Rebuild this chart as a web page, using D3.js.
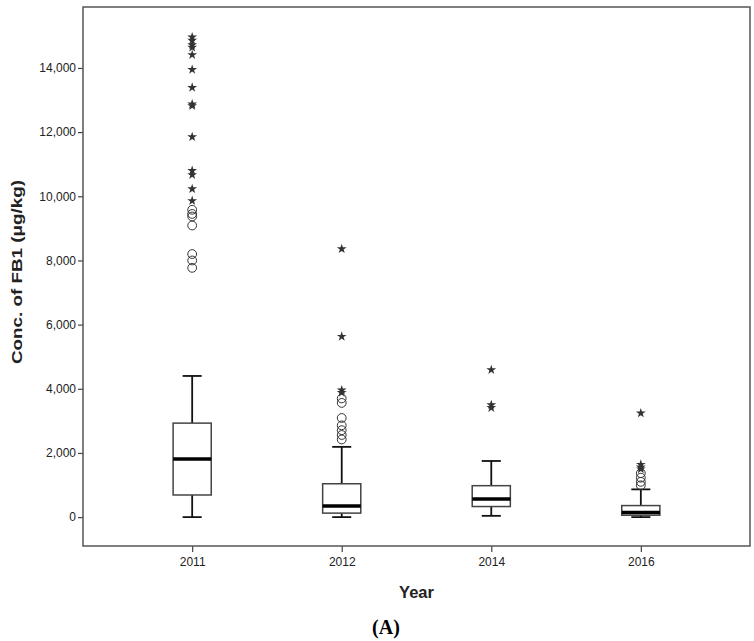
<!DOCTYPE html>
<html>
<head>
<meta charset="utf-8">
<script src="https://cdn.jsdelivr.net/npm/d3@7"></script>
<style>
  body { margin: 0; background: #fff; }
  svg { display: block; }
</style>
</head>
<body>
<div id="chart"></div>
<script>
// box plot values (µg/kg)
var years = ["2011", "2012", "2014", "2016"];
var whiskerLow = [0, 0, 40, 0];
var q1 = [690, 125, 330, 60];
var median = [1810, 345, 565, 145];
var q3 = [2930, 1040, 980, 360];
var whiskerHigh = [4400, 2190, 1750, 865];
// circles = outliers, stars = extreme outliers
var outliers2011 = [9580, 9450, 9370, 9090, 8200, 8000, 7770];
var extremes2011 = [14960, 14860, 14720, 14640, 14410, 13950, 13390, 12870, 12820, 11850, 10800, 10670, 10230, 9860];
var outliers2012 = [3700, 3560, 3090, 2860, 2710, 2560, 2420];
var extremes2012 = [8360, 5630, 3960, 3880];
var outliers2014 = [];
var extremes2014 = [4590, 3500, 3410];
var outliers2016 = [1370, 1230, 1100, 990];
var extremes2016 = [3240, 1640, 1560, 1500];
var yTicks = [0, 2000, 4000, 6000, 8000, 10000, 12000, 14000];

var outliers = [outliers2011, outliers2012, outliers2014, outliers2016];
var extremes = [extremes2011, extremes2012, extremes2014, extremes2016];

var W = 754, H = 641;
var margin = {top: 7, right: 4, bottom: 95, left: 83};
var width = W - margin.left - margin.right,
    height = H - margin.top - margin.bottom;

var svg = d3.select("#chart").append("svg")
    .attr("width", W)
    .attr("height", H);

svg.append("rect").attr("width", W).attr("height", H).attr("fill", "#fff");

var g = svg.append("g")
    .attr("transform", "translate(" + margin.left + "," + margin.top + ")");

var x = d3.scalePoint()
    .domain(years)
    .range([0, width])
    .padding(0.73);

var y = d3.scaleLinear()
    .domain([-900, 15900])
    .range([height, 0]);

var font = "'Liberation Sans', Arial, sans-serif";

// y axis
var yAxis = g.append("g")
    .call(d3.axisLeft(y).tickValues(yTicks).tickSize(5).tickPadding(2)
        .tickFormat(d3.format(",")));
yAxis.select(".domain").remove();
yAxis.selectAll("line").attr("stroke", "#444").attr("stroke-width", 1.2);
yAxis.selectAll("text").style("font-family", font).style("font-size", "12px").attr("fill", "#222");

// x axis
var xAxis = g.append("g")
    .attr("transform", "translate(0," + height + ")")
    .call(d3.axisBottom(x).tickSize(6).tickPadding(5));
xAxis.select(".domain").remove();
xAxis.selectAll("line").attr("stroke", "#444").attr("stroke-width", 1.2);
xAxis.selectAll("text").style("font-family", font).style("font-size", "12px").attr("fill", "#222");

// frame
g.append("rect")
    .attr("width", width)
    .attr("height", height)
    .attr("fill", "none")
    .attr("stroke", "#555")
    .attr("stroke-width", 1.5);

var boxW = x.step() * 0.255;
var capW = boxW / 2;

var boxes = g.selectAll(".box")
    .data(years)
    .enter().append("g")
    .attr("class", "box")
    .attr("transform", function(d) { return "translate(" + x(d) + ",0)"; });

// whiskers
boxes.append("line")
    .attr("y1", function(d, i) { return y(whiskerHigh[i]); })
    .attr("y2", function(d, i) { return y(q3[i]); })
    .attr("stroke", "#111").attr("stroke-width", 1.8);
boxes.append("line")
    .attr("y1", function(d, i) { return y(q1[i]); })
    .attr("y2", function(d, i) { return y(whiskerLow[i]); })
    .attr("stroke", "#111").attr("stroke-width", 1.8);
boxes.append("line")
    .attr("x1", -capW / 2).attr("x2", capW / 2)
    .attr("y1", function(d, i) { return y(whiskerHigh[i]); })
    .attr("y2", function(d, i) { return y(whiskerHigh[i]); })
    .attr("stroke", "#111").attr("stroke-width", 1.8);
boxes.append("line")
    .attr("x1", -capW / 2).attr("x2", capW / 2)
    .attr("y1", function(d, i) { return y(whiskerLow[i]); })
    .attr("y2", function(d, i) { return y(whiskerLow[i]); })
    .attr("stroke", "#111").attr("stroke-width", 1.8);

// box
boxes.append("rect")
    .attr("x", -boxW / 2)
    .attr("width", boxW)
    .attr("y", function(d, i) { return y(q3[i]); })
    .attr("height", function(d, i) { return y(q1[i]) - y(q3[i]); })
    .attr("fill", "#fff")
    .attr("stroke", "#444")
    .attr("stroke-width", 1.5);

// median
boxes.append("line")
    .attr("x1", -boxW / 2).attr("x2", boxW / 2)
    .attr("y1", function(d, i) { return y(median[i]); })
    .attr("y2", function(d, i) { return y(median[i]); })
    .attr("stroke", "#000").attr("stroke-width", 3.5);

// outlier circles and extreme stars
boxes.each(function(d, i) {
    d3.select(this).selectAll(".out")
        .data(outliers[i])
        .enter().append("circle")
        .attr("cy", function(v) { return y(v); })
        .attr("r", 4.4)
        .attr("fill", "none")
        .attr("stroke", "#333")
        .attr("stroke-width", 1);
    d3.select(this).selectAll(".ext")
        .data(extremes[i])
        .enter().append("path")
        .attr("d", d3.symbol().type(d3.symbolStar).size(30))
        .attr("transform", function(v) { return "translate(0," + y(v) + ")"; })
        .attr("fill", "#333");
});

// axis titles
svg.append("text")
    .attr("transform", "translate(22," + 272 + ") rotate(-90)")
    .attr("text-anchor", "middle")
    .attr("textLength", 184)
    .attr("lengthAdjust", "spacingAndGlyphs")
    .style("font-family", font)
    .style("font-size", "15px")
    .style("font-weight", "bold")
    .attr("fill", "#222")
    .text("Conc. of FB1 (μg/kg)");

svg.append("text")
    .attr("x", margin.left + width / 2)
    .attr("y", 598)
    .attr("text-anchor", "middle")
    .style("font-family", font)
    .style("font-size", "16.5px")
    .style("font-weight", "bold")
    .attr("fill", "#222")
    .text("Year");

svg.append("text")
    .attr("x", 386)
    .attr("y", 634)
    .attr("text-anchor", "middle")
    .style("font-family", "'Liberation Serif', 'DejaVu Serif', serif")
    .style("font-size", "20px")
    .style("font-weight", "bold")
    .attr("fill", "#000")
    .text("(A)");
</script>
</body>
</html>
